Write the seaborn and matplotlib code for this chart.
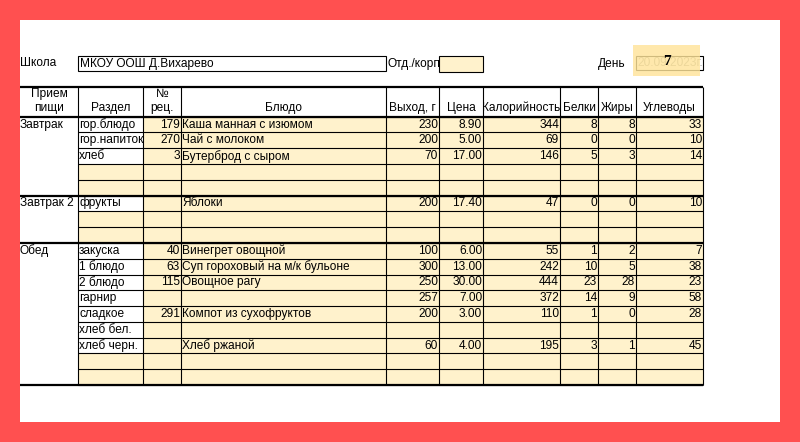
import matplotlib
matplotlib.use("Agg")
import matplotlib.pyplot as plt
import seaborn as sns
import numpy as np
from matplotlib.patches import Rectangle

# Данные меню
school = "МКОУ ООШ Д.Вихарево"
date_text = "20.09.2023г."
day_number = "7"

headers = ["Прием\nпищи", "Раздел", "№\nрец.", "Блюдо", "Выход, г", "Цена",
           "Калорийность", "Белки", "Жиры", "Углеводы"]
meals = ["Завтрак", "Завтрак 2", "Обед"]
meal_rows = [5, 3, 9]

sections = ["гор.блюдо", "гор.напиток", "хлеб", None, None,
            "фрукты", None, None,
            "закуска", "1 блюдо", "2 блюдо", "гарнир", "сладкое", "хлеб бел.", "хлеб черн.", None, None]
recipes = [179, 270, 3, None, None,
           None, None, None,
           40, 63, 115, None, 291, None, None, None, None]
dishes = ["Каша манная с изюмом", "Чай с молоком", "Бутерброд с сыром", None, None,
          "Яблоки", None, None,
          "Винегрет овощной", "Суп гороховый на м/к бульоне", "Овощное рагу", None,
          "Компот из сухофруктов", None, "Хлеб ржаной", None, None]
weights = [230, 200, 70, None, None,
           200, None, None,
           100, 300, 250, 257, 200, None, 60, None, None]
prices = [8.90, 5.00, 17.00, None, None,
          17.40, None, None,
          6.00, 13.00, 30.00, 7.00, 3.00, None, 4.00, None, None]
calories = [344, 69, 146, None, None,
            47, None, None,
            55, 242, 444, 372, 110, None, 195, None, None]
proteins = [8, 0, 5, None, None,
            0, None, None,
            1, 10, 23, 14, 1, None, 3, None, None]
fats = [8, 0, 3, None, None,
        0, None, None,
        2, 5, 28, 9, 0, None, 1, None, None]
carbs = [33, 10, 14, None, None,
         10, None, None,
         7, 38, 23, 58, 28, None, 45, None, None]

# Разметка (пиксели)
col_edges = [20, 78, 143, 181, 386, 439, 483, 560, 598, 636, 703]
header_top, header_bottom, row_h = 86.7, 116.7, 15.78
n_rows = len(sections)
row_edges = header_bottom + row_h * np.arange(n_rows + 1)

cell_yellow = "#FFF2CC"
FS = 8.6

sns.set_theme(style="white")
plt.rcParams["font.family"] = ["Liberation Sans", "DejaVu Sans"]
plt.rcParams["text.color"] = "black"

fig = plt.figure(figsize=(8, 4.42), dpi=100, facecolor="#FF5050")
ax = fig.add_axes([0, 0, 1, 1])
ax.set_xlim(0, 800)
ax.set_ylim(442, 0)
ax.axis("off")
ax.add_patch(Rectangle((20, 20), 760, 402, facecolor="white", edgecolor="none", zorder=0))

# Фон ячеек: 0 = белый, 1 = жёлтый
fill = np.ones((n_rows, len(col_edges) - 1))
fill[:, 0] = 0
for i, s in enumerate(sections):
    if s is not None:
        fill[i, 1] = 0
ax.pcolormesh(col_edges, row_edges, fill,
              cmap=matplotlib.colors.ListedColormap(["white", cell_yellow]),
              vmin=0, vmax=1, zorder=1)

# Линии
lw_thin, lw_thick = 0.8, 1.6
for y in row_edges:
    ax.hlines(y, col_edges[1], col_edges[-1], color="black", lw=lw_thin, zorder=3)
group_edges = [header_top, header_bottom] + list(header_bottom + row_h * np.cumsum(meal_rows))
for y in group_edges:
    ax.hlines(y, col_edges[0], col_edges[-1], color="black", lw=lw_thick, zorder=4)
for x in col_edges[1:]:
    ax.vlines(x, header_top, row_edges[-1], color="black", lw=lw_thin, zorder=3)

# Заголовки
for j, h in enumerate(headers):
    xc = (col_edges[j] + col_edges[j + 1]) / 2
    ax.text(xc, header_bottom - 3, h, ha="center", va="bottom", fontsize=FS,
            linespacing=1.15, zorder=5)

# Приёмы пищи
start = 0
for m, n in zip(meals, meal_rows):
    ax.text(col_edges[0], row_edges[start] + row_h / 2, m, ha="left", va="center",
            fontsize=FS, zorder=5)
    start += n


def put(j, i, val, align):
    if val is None:
        return
    yc = row_edges[i] + row_h / 2
    if align == "left":
        ax.text(col_edges[j] + 1, yc, val, ha="left", va="center", fontsize=FS, zorder=5)
    else:
        ax.text(col_edges[j + 1] - 1, yc, val, ha="right", va="center", fontsize=FS, zorder=5)


for i in range(n_rows):
    put(1, i, sections[i], "left")
    put(2, i, None if recipes[i] is None else str(recipes[i]), "right")
    put(3, i, dishes[i], "left")
    put(4, i, None if weights[i] is None else str(weights[i]), "right")
    put(5, i, None if prices[i] is None else f"{prices[i]:.2f}", "right")
    put(6, i, None if calories[i] is None else str(calories[i]), "right")
    put(7, i, None if proteins[i] is None else str(proteins[i]), "right")
    put(8, i, None if fats[i] is None else str(fats[i]), "right")
    put(9, i, None if carbs[i] is None else str(carbs[i]), "right")

# Шапка документа
ytop = 63.5
ax.text(20, ytop, "Школа", ha="left", va="center", fontsize=FS)
ax.add_patch(Rectangle((78, 56), 308, 15, facecolor="white", edgecolor="black", lw=0.8, zorder=2))
ax.text(80, ytop, school, ha="left", va="center", fontsize=FS, zorder=3)
ax.text(387, ytop, "Отд./корп", ha="left", va="center", fontsize=FS)
ax.add_patch(Rectangle((439, 56), 44, 16, facecolor=cell_yellow, edgecolor="black", lw=0.8, zorder=2))
ax.text(598, ytop, "День", ha="left", va="center", fontsize=FS)
ax.add_patch(Rectangle((636, 56), 67, 14, facecolor="white", edgecolor="black", lw=0.8, zorder=2))
ax.text(637, ytop, date_text, ha="left", va="center", fontsize=FS, color="#9a9a9a", zorder=3)
ax.add_patch(Rectangle((633, 45), 67, 31, facecolor="#FFE49A", edgecolor="none", alpha=0.82, zorder=4))
ax.text(666.5, 61.5, day_number, ha="center", va="center", fontsize=11, fontweight="bold",
        family="Liberation Serif", zorder=5)

fig.savefig("out.png", dpi=100, facecolor=fig.get_facecolor())
